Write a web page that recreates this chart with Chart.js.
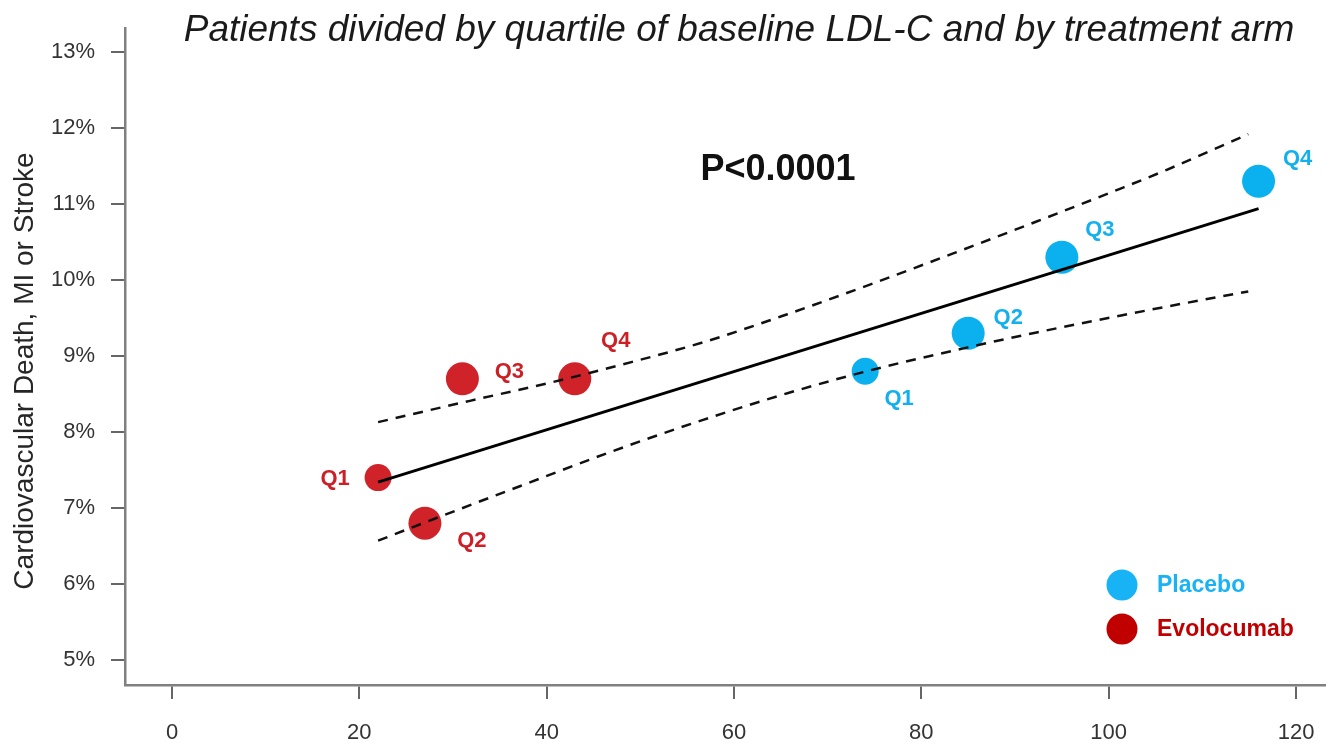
<!DOCTYPE html>
<html>
<head>
<meta charset="utf-8">
<script src="https://cdn.jsdelivr.net/npm/chart.js@4.4.1/dist/chart.umd.min.js"></script>
<style>
  html, body { margin: 0; padding: 0; background: #fff; overflow: hidden; }
  #wrap { width: 1326px; height: 744px; }
  canvas { display: block; }
</style>
</head>
<body>
<div id="wrap"><canvas id="ldlChart" width="1326" height="744"></canvas></div>
<script>
// values (x = achieved LDL-C mg/dL, y = event rate %)
const xTicks = [0, 20, 40, 60, 80, 100, 120];
const yTicks = [5, 6, 7, 8, 9, 10, 11, 12, 13];
const quartiles = ["Q1", "Q2", "Q3", "Q4"];
const placeboLdl = [74, 85, 95, 116];
const placeboRate = [8.8, 9.3, 10.3, 11.3];
const evoLdl = [22, 27, 31, 43];
const evoRate = [7.4, 6.8, 8.7, 8.7];
const fitLdl = [22, 116];
const fitRate = [7.34, 10.94];
const upperLdl = [22, 31.8, 40.4, 47.8, 56.7, 65.7, 74.5, 83.4, 92.3, 101.2, 106.2, 114.9];
const upperRate = [8.13, 8.41, 8.65, 8.88, 9.18, 9.55, 9.94, 10.35, 10.77, 11.2, 11.45, 11.92];
const lowerLdl = [22, 26.8, 37.2, 47.1, 56.7, 65.7, 74.5, 85.2, 92.3, 101.2, 106.2, 114.9];
const lowerRate = [6.57, 6.8, 7.29, 7.75, 8.16, 8.51, 8.81, 9.12, 9.31, 9.53, 9.65, 9.85];

const titleText = "Patients divided by quartile of baseline LDL-C and by treatment arm";
const yTitle = "Cardiovascular Death, MI or Stroke";
const pText = "P<0.0001";

// styling
const FONT = "'Liberation Sans', Arial, sans-serif";
const BLUE = "#0bb0ee";
const RED = "#cf2329";
const pointSizes = [13.5, 16.5, 16.5, 16.5];
const evoLabelOffsets = [[-43, 1], [47, 18], [47, -7], [41, -38]];
const placeboLabelOffsets = [[34, 28], [40, -15], [38, -27], [39, -22]];

const toPts = (xs, ys) => xs.map((x, i) => ({ x: x, y: ys[i] }));

const textLayer = {
	id: "textLayer",
	afterDatasetsDraw(chart) {
		const ctx = chart.ctx;
		ctx.save();
		ctx.textAlign = "center";

		ctx.fillStyle = "#1a1a1a";
		ctx.textBaseline = "alphabetic";
		ctx.font = "italic 37px " + FONT;
		ctx.fillText(titleText, 739, 41);

		ctx.font = "bold 36px " + FONT;
		ctx.fillStyle = "#111";
		ctx.fillText(pText, 778, 180);

		// y axis title
		ctx.save();
		ctx.translate(25, 371);
		ctx.rotate(-Math.PI / 2);
		ctx.textBaseline = "middle";
		ctx.font = "28px " + FONT;
		ctx.fillStyle = "#262626";
		ctx.fillText(yTitle, 0, 0);
		ctx.restore();

		// quartile labels next to each point
		ctx.textBaseline = "middle";
		ctx.font = "bold 22px " + FONT;
		const drawLabels = (dsIndex, offsets, color) => {
			const meta = chart.getDatasetMeta(dsIndex);
			ctx.fillStyle = color;
			meta.data.forEach((pt, i) => {
				ctx.fillText(quartiles[i], pt.x + offsets[i][0], pt.y + offsets[i][1]);
			});
		};
		drawLabels(3, placeboLabelOffsets, "#14b0ee");
		drawLabels(4, evoLabelOffsets, "#cc1f26");

		// legend
		const items = [
			{ label: chart.data.datasets[3].label, dot: "#18b3f5", text: "#18b3f5", y: 585 },
			{ label: chart.data.datasets[4].label, dot: "#c00000", text: "#c00000", y: 629 },
		];
		ctx.textAlign = "left";
		ctx.font = "bold 23px " + FONT;
		items.forEach((it) => {
			ctx.beginPath();
			ctx.arc(1122, it.y, 15.5, 0, Math.PI * 2);
			ctx.fillStyle = it.dot;
			ctx.fill();
			ctx.fillStyle = it.text;
			ctx.fillText(it.label, 1157, it.y + 1);
		});
		ctx.restore();
	},
};

const ctx = document.getElementById("ldlChart").getContext("2d");

new Chart(ctx, {
	type: "scatter",
	data: {
		datasets: [
			{
				label: "fit",
				data: toPts(fitLdl, fitRate),
				showLine: true,
				borderColor: "#000",
				borderWidth: 3,
				pointRadius: 0,
				order: 0,
			},
			{
				label: "upper",
				data: toPts(upperLdl, upperRate),
				showLine: true,
				borderColor: "#111",
				borderWidth: 2.5,
				borderDash: [10, 8],
				cubicInterpolationMode: "monotone",
				pointRadius: 0,
				order: 0,
			},
			{
				label: "lower",
				data: toPts(lowerLdl, lowerRate),
				showLine: true,
				borderColor: "#111",
				borderWidth: 2.5,
				borderDash: [10, 8],
				cubicInterpolationMode: "monotone",
				pointRadius: 0,
				order: 0,
			},
			{
				label: "Placebo",
				data: toPts(placeboLdl, placeboRate),
				backgroundColor: BLUE,
				borderWidth: 0,
				pointRadius: pointSizes,
				order: 1,
			},
			{
				label: "Evolocumab",
				data: toPts(evoLdl, evoRate),
				backgroundColor: RED,
				borderWidth: 0,
				pointRadius: pointSizes,
				order: 1,
			},
		],
	},
	options: {
		responsive: false,
		animation: false,
		layout: { autoPadding: false, padding: { top: 28, right: 0, left: 0, bottom: 0 } },
		scales: {
			x: {
				type: "linear",
				min: -5.02,
				max: 123.2,
				afterBuildTicks: (s) => { s.ticks = xTicks.map((v) => ({ value: v })); },
				afterFit: (s) => { s.height = 59; s.paddingLeft = 0; s.paddingRight = 0; },
				ticks: {
					color: "#333",
					// tall line box pushes the labels down without adding side padding
					font: { family: FONT, size: 22, lineHeight: 3.1 },
					padding: 0,
					maxRotation: 0,
					autoSkip: false,
				},
				grid: { drawOnChartArea: false, drawTicks: true, tickLength: 14, color: "#666", lineWidth: 2 },
				border: { display: true, color: "#808080", width: 2.5 },
			},
			y: {
				type: "linear",
				min: 4.671,
				max: 13.316,
				afterBuildTicks: (s) => { s.ticks = yTicks.map((v) => ({ value: v })); },
				afterFit: (s) => { s.width = 125; s.paddingTop = 0; s.paddingBottom = 0; },
				ticks: {
					color: "#333",
					font: { family: FONT, size: 22 },
					padding: 16,
					autoSkip: false,
					callback: (v) => v + "%",
				},
				grid: { drawOnChartArea: false, drawTicks: true, tickLength: 14, color: "#666", lineWidth: 2 },
				border: { display: true, color: "#808080", width: 2.5 },
			},
		},
		plugins: {
			legend: { display: false },
			tooltip: { enabled: false },
		},
	},
	plugins: [textLayer],
});
</script>
</body>
</html>
